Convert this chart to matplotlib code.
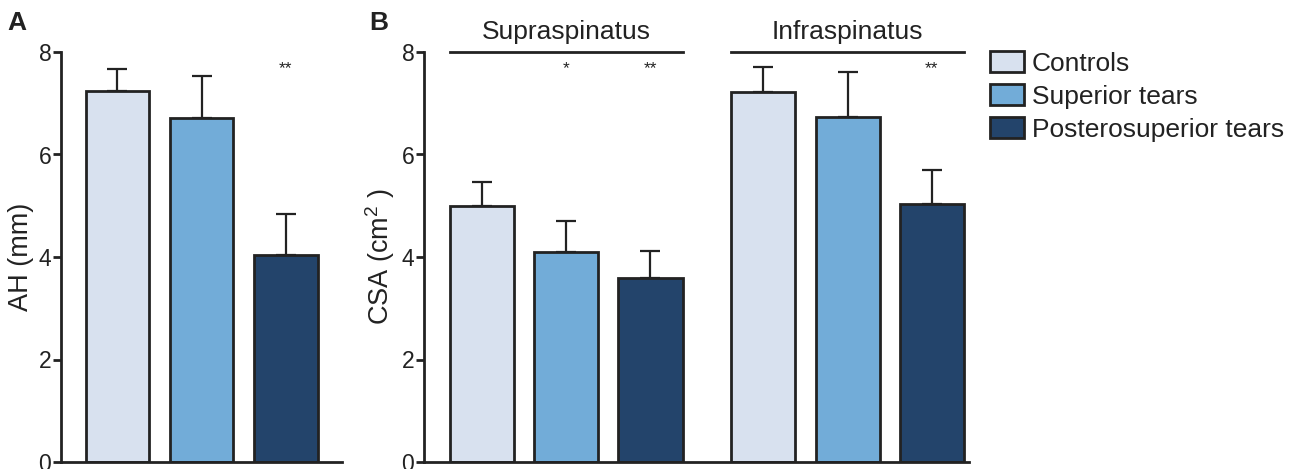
import matplotlib
matplotlib.use("Agg")
import matplotlib.pyplot as plt
from matplotlib.patches import Patch

plt.rcParams['font.family'] = ['Liberation Sans', 'DejaVu Sans']
plt.rcParams['mathtext.fontset'] = 'custom'
plt.rcParams['mathtext.rm'] = 'Liberation Sans'
plt.rcParams['mathtext.it'] = 'Liberation Sans'

groups = ["Controls", "Superior tears", "Posterosuperior tears"]
colors = ["#D8E1EF", "#72ACD8", "#23446B"]
edge = "#222222"

# Panel A: AH (mm)
ah_mean = [7.24, 6.72, 4.04]
ah_err = [0.43, 0.81, 0.80]
ah_sig = ["", "", "**"]

# Panel B: CSA (cm2)
muscles = ["Supraspinatus", "Infraspinatus"]
supra_mean = [4.99, 4.10, 3.59]
supra_err = [0.47, 0.60, 0.53]
supra_sig = ["", "*", "**"]
infra_mean = [7.22, 6.74, 5.03]
infra_err = [0.49, 0.87, 0.66]
infra_sig = ["", "", "**"]

yticks = [0, 2, 4, 6, 8]

W, H = 1290, 469
fig = plt.figure(figsize=(W / 100, H / 100), dpi=100)

def fx(p):
    return p / W

def fy(p):
    return 1 - p / H

axA = fig.add_axes([fx(61), fy(462), fx(342 - 61), fy(52) - fy(462)])
axB = fig.add_axes([fx(424), fy(462), fx(969 - 424), fy(52) - fy(462)])

def style(ax):
    ax.set_ylim(0, 8)
    ax.set_yticks(yticks)
    ax.set_yticklabels([str(t) for t in yticks])
    for s in ["top", "right"]:
        ax.spines[s].set_visible(False)
    for s in ["left", "bottom"]:
        ax.spines[s].set_linewidth(2.0)
        ax.spines[s].set_color(edge)
    ax.tick_params(axis="y", direction="out", length=6, width=2, color=edge,
                   labelsize=16.5, pad=1, labelcolor="#222222")
    ax.tick_params(axis="x", bottom=False, labelbottom=False)

# Panel A
xa = [0, 1, 2]
axA.bar(xa, ah_mean, width=0.75, color=colors, edgecolor=edge, linewidth=2.0, zorder=2)
axA.errorbar(xa, ah_mean, yerr=[[0] * 3, ah_err], fmt="none", ecolor=edge,
             elinewidth=1.6, capsize=7.5, capthick=1.6, zorder=1)
for x, s in zip(xa, ah_sig):
    if s:
        axA.text(x, 7.68, s, ha="center", va="center", fontsize=12.5, color=edge)
axA.set_xlim(-0.67, 2.665)
style(axA)
axA.set_ylabel("AH (mm)", fontsize=19.5, color="#222222", labelpad=3)

# Panel B
xb1 = [0, 1, 2]
xb2 = [3.34, 4.34, 5.34]
for xs, means, errs, sigs, name in [(xb1, supra_mean, supra_err, supra_sig, muscles[0]),
                                    (xb2, infra_mean, infra_err, infra_sig, muscles[1])]:
    axB.bar(xs, means, width=0.76, color=colors, edgecolor=edge, linewidth=2.0, zorder=2)
    axB.errorbar(xs, means, yerr=[[0] * 3, errs], fmt="none", ecolor=edge,
                 elinewidth=1.6, capsize=7.5, capthick=1.6, zorder=1)
    for x, s in zip(xs, sigs):
        if s:
            axB.text(x, 7.68, s, ha="center", va="center", fontsize=12.5, color=edge)
    axB.plot([xs[0] - 0.38, xs[-1] + 0.38], [8, 8], color=edge, lw=2.0, clip_on=False)
    axB.text((xs[0] + xs[-1]) / 2, 8.25, name, ha="center", va="baseline",
             fontsize=19, color="#222222", clip_on=False)
axB.set_xlim(-0.688, 5.78)
style(axB)
axB.set_ylabel("CSA (cm$^{2}$ )", fontsize=19.5, color="#222222", labelpad=3)

# Panel labels
fig.text(fx(7), fy(23), "A", fontsize=19, fontweight="bold", va="center", ha="left", color="#222222")
fig.text(fx(369), fy(23), "B", fontsize=19, fontweight="bold", va="center", ha="left", color="#222222")

# Legend
handles = [Patch(facecolor=c, edgecolor=edge, linewidth=2.0) for c in colors]
fig.legend(handles, groups, loc="upper left", bbox_to_anchor=(fx(990), fy(51)),
           frameon=False, fontsize=19, handlelength=1.29, handleheight=0.83,
           handletextpad=0.3, labelspacing=0.33, borderpad=0, borderaxespad=0,
           labelcolor="#222222")

fig.savefig("out.png", dpi=100)
